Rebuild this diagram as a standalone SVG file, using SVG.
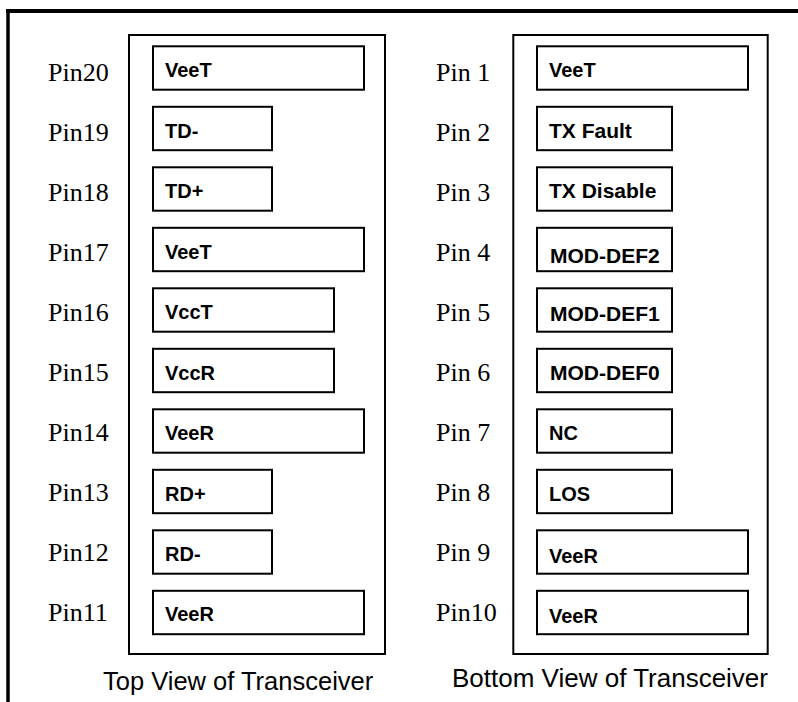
<svg xmlns="http://www.w3.org/2000/svg" width="798" height="702" viewBox="0 0 798 702">
<style>
.frame{fill:none;stroke:#000;stroke-width:4}
.outer{fill:none;stroke:#000;stroke-width:2}
.pin{fill:#fff;stroke:#000;stroke-width:2}
.pl{font-family:"Liberation Serif","Times New Roman",serif;font-size:26px;fill:#000}
.bl{font-family:"Liberation Sans",Arial,sans-serif;font-size:20px;font-weight:bold;fill:#000}
.bl2{font-family:"Liberation Sans",Arial,sans-serif;font-size:21px;font-weight:bold;fill:#000}
.cap{font-family:"Liberation Sans",Arial,sans-serif;font-size:26px;fill:#000}
</style>
<rect width="798" height="702" fill="#fff"/>
<g id="frame">
<line class="frame" x1="6" y1="11" x2="798" y2="11"/>
<line class="frame" x1="8" y1="9" x2="8" y2="702" style="stroke-width:3.5"/>
</g>
<g id="top-view">
<rect class="outer" x="129" y="35" width="256" height="619"/>
<text class="cap" x="103" y="690" style="font-size:25.5px">Top View of Transceiver</text>
</g>
<g id="bottom-view">
<rect class="outer" x="513.3" y="35" width="254.4" height="619"/>
<text class="cap" x="452" y="687">Bottom View of Transceiver</text>
</g>
<g id="pin20"><text class="pl" x="48" y="80.6">Pin20</text><rect class="pin" x="153" y="46.3" width="211" height="43.4"/><text class="bl" x="165" y="77">VeeT</text></g>
<g id="pin19"><text class="pl" x="48" y="140.6">Pin19</text><rect class="pin" x="153" y="106.8" width="119" height="43.4"/><text class="bl" x="165" y="137.5">TD-</text></g>
<g id="pin18"><text class="pl" x="48" y="200.7">Pin18</text><rect class="pin" x="153" y="167.3" width="119" height="43.4"/><text class="bl" x="165" y="198">TD+</text></g>
<g id="pin17"><text class="pl" x="48" y="260.7">Pin17</text><rect class="pin" x="153" y="227.8" width="211" height="43.4"/><text class="bl" x="165" y="258.5">VeeT</text></g>
<g id="pin16"><text class="pl" x="48" y="320.8">Pin16</text><rect class="pin" x="153" y="288.3" width="181" height="43.4"/><text class="bl" x="165" y="319">VccT</text></g>
<g id="pin15"><text class="pl" x="48" y="380.8">Pin15</text><rect class="pin" x="153" y="348.8" width="181" height="43.4"/><text class="bl" x="165" y="379.5">VccR</text></g>
<g id="pin14"><text class="pl" x="48" y="440.8">Pin14</text><rect class="pin" x="153" y="409.3" width="211" height="43.4"/><text class="bl" x="165" y="440">VeeR</text></g>
<g id="pin13"><text class="pl" x="48" y="500.9">Pin13</text><rect class="pin" x="153" y="469.8" width="119" height="43.4"/><text class="bl" x="165" y="500.5">RD+</text></g>
<g id="pin12"><text class="pl" x="48" y="561">Pin12</text><rect class="pin" x="153" y="530.3" width="119" height="43.4"/><text class="bl" x="165" y="561">RD-</text></g>
<g id="pin11"><text class="pl" x="48" y="620.5">Pin11</text><rect class="pin" x="153" y="590.8" width="211" height="43.4"/><text class="bl" x="165" y="621">VeeR</text></g>
<g id="pin1"><text class="pl" x="436" y="80.6">Pin 1</text><rect class="pin" x="537" y="46.3" width="211" height="43.4"/><text class="bl" x="549" y="77">VeeT</text></g>
<g id="pin2"><text class="pl" x="436" y="140.6">Pin 2</text><rect class="pin" x="537" y="106.8" width="135" height="43.4"/><text class="bl2" x="549" y="137.5">TX Fault</text></g>
<g id="pin3"><text class="pl" x="436" y="200.7">Pin 3</text><rect class="pin" x="537" y="167.3" width="135" height="43.4"/><text class="bl2" x="549" y="198">TX Disable</text></g>
<g id="pin4"><text class="pl" x="436" y="260.7">Pin 4</text><rect class="pin" x="537" y="227.8" width="135" height="43.4"/><text class="bl2" x="550" y="263">MOD-DEF2</text></g>
<g id="pin5"><text class="pl" x="436" y="320.8">Pin 5</text><rect class="pin" x="537" y="288.3" width="135" height="43.4"/><text class="bl2" x="550" y="321">MOD-DEF1</text></g>
<g id="pin6"><text class="pl" x="436" y="380.8">Pin 6</text><rect class="pin" x="537" y="348.8" width="135" height="43.4"/><text class="bl2" x="550" y="380">MOD-DEF0</text></g>
<g id="pin7"><text class="pl" x="436" y="440.8">Pin 7</text><rect class="pin" x="537" y="409.3" width="135" height="43.4"/><text class="bl" x="549" y="440">NC</text></g>
<g id="pin8"><text class="pl" x="436" y="500.9">Pin 8</text><rect class="pin" x="537" y="469.8" width="135" height="43.4"/><text class="bl" x="549" y="500.5">LOS</text></g>
<g id="pin9"><text class="pl" x="436" y="561">Pin 9</text><rect class="pin" x="537" y="530.3" width="211" height="43.4"/><text class="bl" x="549" y="563">VeeR</text></g>
<g id="pin10"><text class="pl" x="436" y="620.5">Pin10</text><rect class="pin" x="537" y="590.8" width="211" height="43.4"/><text class="bl" x="549" y="623">VeeR</text></g>
</svg>
